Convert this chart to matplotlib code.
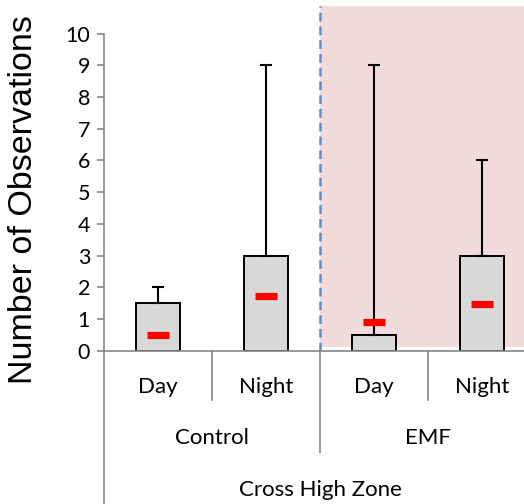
import matplotlib.pyplot as plt

# Observation counts per treatment / period
groups = ['Control', 'EMF']
periods = ['Day', 'Night', 'Day', 'Night']
zone = 'Cross High Zone'
bar_values = [1.5, 3, 0.5, 3]
upper_values = [2, 9, 9, 6]
mean_values = [0.5, 1.72, 0.91, 1.46]
emf_band = (0.13, 10.88)

plt.rcParams['font.family'] = ['Lato', 'DejaVu Sans']

fig = plt.figure(figsize=(5.24, 5.04), dpi=100)
ax = fig.add_axes([104 / 524, 153.3 / 504, 420 / 524, 350.7 / 504])

x = list(range(len(bar_values)))
gray = '#868686'

# shaded EMF section and divider
ax.fill_between([1.5, 3.6], emf_band[0], emf_band[1], color='#F2DCDB', zorder=0, lw=0)
ax.plot([1.5, 1.5], [0, emf_band[1]], color='#5B8FD0', lw=1.8, ls=(0, (3.5, 2)), zorder=1)

errs = [[0] * len(bar_values), [u - b for u, b in zip(upper_values, bar_values)]]
ax.bar(x, bar_values, width=0.41, color='#D9D9D9', edgecolor='black', linewidth=1.4, zorder=2,
       yerr=errs, error_kw=dict(ecolor='black', elinewidth=1.5, capsize=4.3, capthick=1.5))
ax.plot(x, mean_values, ls='none', marker='_', color='#FF0000', markersize=15.5,
        markeredgewidth=5.2, zorder=4)

ax.set_xlim(-0.5, 3.39)
ax.set_ylim(0, 11.06)
ax.set_yticks(range(0, 11))
ax.tick_params(axis='y', direction='out', length=5, width=1.2, color=gray, labelsize=15.5, pad=5)
ax.set_xticks([])
for s in ['top', 'right']:
    ax.spines[s].set_visible(False)
ax.spines['left'].set_bounds(0, 10)
ax.spines['left'].set_color(gray)
ax.spines['bottom'].set_color(gray)
ax.spines['left'].set_linewidth(1.2)
ax.spines['bottom'].set_linewidth(1.2)

ax.set_ylabel('Number of Observations', fontsize=24.5, family='Liberation Sans')
ax.yaxis.set_label_coords(-0.155, 0.43)

# multi-level category axis below the plot
line_kw = dict(color=gray, lw=1.2, clip_on=False)
ax.plot([-0.5, -0.5], [0, -4.84], **line_kw)
ax.plot([1.5, 1.5], [0, -3.19], **line_kw)
for b in [0.5, 2.5]:
    ax.plot([b, b], [0, -1.56], **line_kw)

for xi, p in zip(x, periods):
    ax.text(xi, -1.15, p, ha='center', va='center', fontsize=16, clip_on=False)
for i, g in enumerate(groups):
    ax.text(0.5 + 2 * i, -2.76, g, ha='center', va='center', fontsize=16, clip_on=False)
ax.text(1.5, -4.4, zone, ha='center', va='center', fontsize=16, clip_on=False)

fig.savefig('out.png', dpi=100)
